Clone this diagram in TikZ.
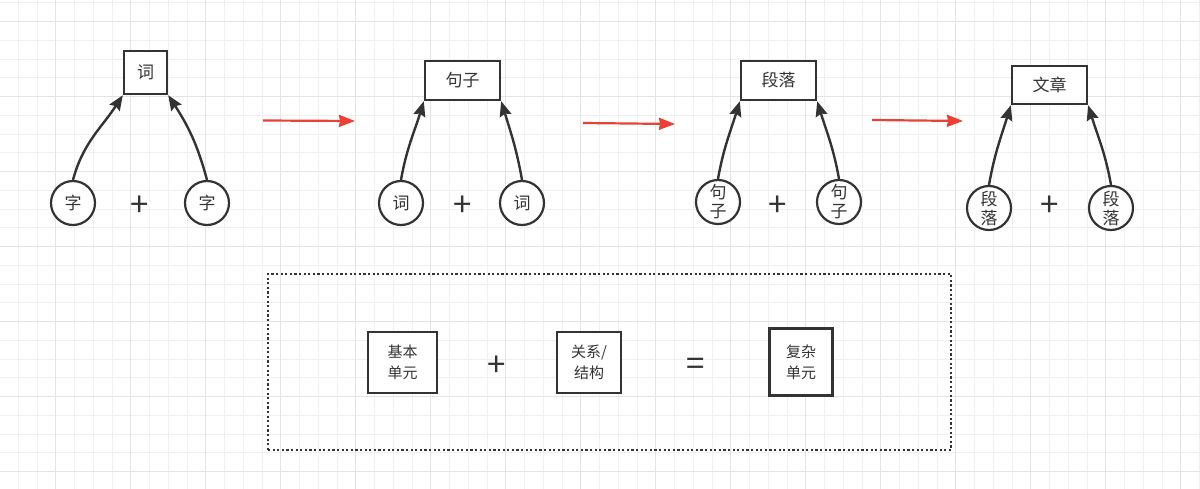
\documentclass[tikz,border=0pt]{standalone}
\usepackage{fontspec}
\setmainfont{Noto Sans CJK SC}
\usepackage{xcolor}
\definecolor{inkDark}{RGB}{51,51,51}
\definecolor{flowRed}{RGB}{236,64,52}
\definecolor{gridMinor}{RGB}{240,240,240}
\definecolor{gridMajor}{RGB}{228,228,228}
\usepackage{tikz}
\usetikzlibrary{shapes}
\usetikzlibrary{arrows.meta}
\usetikzlibrary{positioning}
\tikzstyle{unit} = [rectangle, draw=inkDark, line width=2.4pt, fill=white, inner sep=0pt,
        text=inkDark, font={\fontsize{17}{20}\selectfont}]
\tikzstyle{part} = [circle, draw=inkDark, line width=2.2pt, fill=white, minimum size=44pt,
        inner sep=0pt, align=center, text=inkDark, font={\fontsize{17}{19}\selectfont}]
\tikzstyle{block} = [unit, align=center, font={\fontsize{15}{21}\selectfont}]
\tikzstyle{op} = [text=inkDark, inner sep=0pt, font={\fontsize{33}{33}\selectfont}]
\tikzstyle{frame} = [rectangle, draw=inkDark, line width=2.2pt, dash pattern=on 2.2pt off 2.4pt]
\tikzstyle{link} = [draw=inkDark, line width=2.4pt, -{Stealth[length=15pt,width=12pt,inset=2pt]}]
\tikzstyle{flow} = [draw=flowRed, line width=2.2pt, -{Stealth[length=16pt,width=12pt,inset=1pt]}]

\begin{document}
\begin{tikzpicture}[x=1pt, y=1pt]
                \fill[white] (0,0) rectangle (1200,-489);
                \useasboundingbox (0,0) rectangle (1200,-489);
                % grid
                \foreach \k in {0,...,64}
                    \draw[gridMinor, line width=1pt] (-0.4+18.75*\k,0) -- (-0.4+18.75*\k,-489);
                \foreach \k in {0,...,26}
                    \draw[gridMinor, line width=1pt] (0,-2.95-18.75*\k) -- (1200,-2.95-18.75*\k);
                \foreach \k in {3,7,...,63}
                    \draw[gridMajor, line width=1pt] (-0.4+18.75*\k,0) -- (-0.4+18.75*\k,-489);
                \foreach \k in {1,5,...,25}
                    \draw[gridMajor, line width=1pt] (0,-2.95-18.75*\k) -- (1200,-2.95-18.75*\k);

                \draw (145.5,-72.5)
                    node [unit, minimum width=43pt, minimum height=43pt] (ci) {词}
                    +(-72.5,-130.5) node [part] (zi1) {字}
                    +(61.5,-130.5) node [part] (zi2) {字}
                    +(-5.5,-133.5) node [op] (plus1) {+};
                \draw (462.5,-80.5)
                    node [unit, minimum width=75pt, minimum height=39pt] (juzi) {句子}
                    +(-61.5,-122.5) node [part] (ci1) {词}
                    +(59.5,-122.5) node [part] (ci2) {词}
                    +(0.5,-125.5) node [op] (plus2) {+};
                \draw (778.5,-80.5)
                    node [unit, minimum width=75pt, minimum height=39pt] (duanluo) {段落}
                    +(-60.5,-121.5) node [part] (juzi1) {句\\子}
                    +(60.5,-121.5) node [part] (juzi2) {句\\子}
                    +(-0.5,-125.5) node [op] (plus3) {+};
                \draw (1049.5,-85)
                    node [unit, minimum width=75pt, minimum height=38pt] (wenzhang) {文章}
                    +(-60.5,-123) node [part] (duanluo1) {段\\落}
                    +(61.5,-123) node [part] (duanluo2) {段\\落}
                    +(0.5,-121) node [op] (plus4) {+};

                \draw[link] (zi1.north) to[out=75, in=-123] (ci.south west);
                \draw[link] (zi2.north) to[out=105, in=-57] (ci.south east);
                \draw[link] (ci1.north) to[out=80, in=-107] (juzi.south west);
                \draw[link] (ci2.north) to[out=100, in=-73] (juzi.south east);
                \draw[link] (juzi1.north) to[out=80, in=-107] (duanluo.south west);
                \draw[link] (juzi2.north) to[out=100, in=-73] (duanluo.south east);
                \draw[link] (duanluo1.north) to[out=80, in=-107] (wenzhang.south west);
                \draw[link] (duanluo2.north) to[out=100, in=-73] (wenzhang.south east);

                \coordinate (step1a) at (263,-120.5);
                \coordinate (step1b) at (355,-121);
                \coordinate (step2a) at (583,-123);
                \coordinate (step2b) at (675,-124);
                \coordinate (step3a) at (872,-120);
                \coordinate (step3b) at (963,-121);
                \draw[flow] (step1a) -- (step1b);
                \draw[flow] (step2a) -- (step2b);
                \draw[flow] (step3a) -- (step3b);

                \draw (609.5,-362)
                    node [frame, minimum width=683pt, minimum height=176pt] (rule) {}
                    +(-207,-0.5) node [block, minimum width=69pt, minimum height=61pt] (basic) {基本\\单元}
                    +(-112.5,-4) node [op] (plus5) {+}
                    +(-20.5,-0.5) node [block, minimum width=64pt, minimum height=61pt] (relation) {关系/\\结构}
                    +(86.5,-5) node [op] (equals) {=}
                    +(191.5,0) node [block, minimum width=63pt, minimum height=67pt] (complex) {复杂\\单元};
            \end{tikzpicture}
\end{document}
